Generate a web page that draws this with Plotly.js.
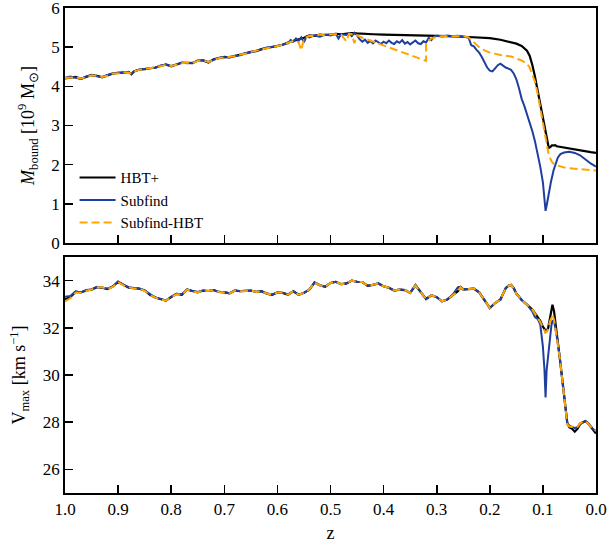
<!DOCTYPE html>
<html>
<head>
<meta charset="utf-8">
<script src="https://cdn.plot.ly/plotly-3.0.1.min.js"></script>
<style>html,body{margin:0;padding:0;background:#fff;}#chart{width:609px;height:552px;}</style>
</head>
<body>
<div id="chart"></div>
<script>
// ---- Top panel: M_bound [1e9 Msun] ----
var zHbtM = [1.00,0.98,0.97,0.96,0.95,0.94,0.93,0.92,0.91,0.90,0.89,0.88,0.875,0.87,0.86,0.85,0.84,0.83,0.82,0.81,0.80,0.79,0.78,0.77,0.76,0.75,0.74,0.73,0.72,0.71,0.70,0.69,0.68,0.67,0.66,0.65,0.64,0.63,0.62,0.61,0.60,0.59,0.58,0.57,0.56,0.55,0.54,0.53,0.52,0.51,0.50,0.49,0.48,0.47,0.46,0.45,0.44,0.42,0.40,0.36,0.32,0.28,0.24,0.22,0.20,0.18,0.16,0.15,0.14,0.135,0.13,0.125,0.12,0.115,0.11,0.105,0.10,0.095,0.092,0.089,0.086,0.083,0.08,0.077,0.074,0.07,0.065,0.06,0.05,0.04,0.03,0.02,0.01,0.0];
var mHbt = [4.20,4.24,4.19,4.24,4.29,4.27,4.23,4.28,4.33,4.34,4.36,4.36,4.31,4.38,4.43,4.44,4.46,4.48,4.52,4.56,4.51,4.55,4.60,4.60,4.59,4.66,4.66,4.61,4.69,4.72,4.75,4.74,4.77,4.80,4.84,4.88,4.90,4.95,4.98,5.00,5.03,5.06,5.12,5.17,5.20,5.24,5.30,5.29,5.32,5.31,5.33,5.34,5.33,5.35,5.36,5.35,5.34,5.33,5.32,5.31,5.29,5.28,5.26,5.25,5.23,5.19,5.13,5.09,5.03,4.98,4.91,4.78,4.55,4.25,3.90,3.50,3.12,2.75,2.55,2.43,2.45,2.49,2.49,2.50,2.47,2.46,2.44,2.43,2.41,2.38,2.36,2.34,2.32,2.30];

var zSubM = [1.00,0.99,0.98,0.97,0.96,0.95,0.94,0.93,0.92,0.91,0.90,0.89,0.88,0.875,0.87,0.86,0.85,0.84,0.83,0.82,0.81,0.80,0.79,0.78,0.77,0.76,0.75,0.74,0.73,0.72,0.71,0.70,0.69,0.68,0.67,0.66,0.65,0.64,0.63,0.62,0.61,0.60,0.59,0.58,0.575,0.57,0.565,0.56,0.555,0.55,0.545,0.54,0.53,0.52,0.51,0.50,0.49,0.485,0.48,0.47,0.465,0.46,0.455,0.45,0.445,0.44,0.435,0.43,0.425,0.42,0.415,0.41,0.405,0.40,0.395,0.39,0.385,0.38,0.375,0.37,0.365,0.36,0.355,0.35,0.345,0.34,0.335,0.33,0.325,0.32,0.315,0.31,0.305,0.30,0.29,0.28,0.27,0.26,0.25,0.24,0.235,0.23,0.225,0.22,0.215,0.21,0.205,0.20,0.195,0.19,0.185,0.18,0.175,0.17,0.165,0.16,0.155,0.15,0.145,0.14,0.135,0.13,0.125,0.12,0.115,0.11,0.105,0.10,0.097,0.095,0.093,0.09,0.085,0.08,0.077,0.072,0.067,0.06,0.05,0.04,0.03,0.02,0.01,0.0];
var mSub = [4.22,4.25,4.22,4.19,4.25,4.28,4.26,4.24,4.29,4.32,4.35,4.34,4.37,4.32,4.39,4.42,4.45,4.47,4.47,4.53,4.55,4.52,4.56,4.61,4.59,4.60,4.65,4.67,4.62,4.68,4.73,4.74,4.75,4.78,4.79,4.85,4.87,4.91,4.94,4.99,5.01,5.02,5.07,5.10,5.18,5.14,5.22,5.16,5.25,5.12,5.28,5.25,5.30,5.27,5.32,5.30,5.34,5.22,5.33,5.31,5.36,5.28,5.37,5.30,5.20,5.14,5.19,5.11,5.16,5.10,5.17,5.12,5.08,5.14,5.10,5.17,5.11,5.08,5.15,5.11,5.18,5.09,5.13,5.07,5.12,5.17,5.10,5.08,5.15,5.12,5.24,5.18,5.27,5.29,5.27,5.30,5.28,5.29,5.27,5.24,5.05,5.02,4.93,4.86,4.75,4.62,4.48,4.40,4.38,4.46,4.54,4.58,4.52,4.48,4.45,4.42,4.33,4.18,3.95,3.68,3.50,3.30,3.08,2.86,2.60,2.30,1.95,1.55,1.15,0.82,0.95,1.22,1.55,1.85,2.00,2.18,2.27,2.31,2.33,2.30,2.24,2.13,2.03,1.95];

var zShM = [1.00,0.98,0.97,0.96,0.95,0.94,0.93,0.92,0.91,0.90,0.89,0.88,0.875,0.87,0.86,0.85,0.84,0.83,0.82,0.81,0.80,0.79,0.78,0.77,0.76,0.75,0.74,0.73,0.72,0.71,0.70,0.69,0.68,0.67,0.66,0.65,0.64,0.63,0.62,0.61,0.60,0.59,0.58,0.57,0.56,0.555,0.55,0.54,0.53,0.52,0.51,0.50,0.49,0.48,0.47,0.465,0.46,0.455,0.45,0.44,0.32,0.32,0.31,0.30,0.29,0.25,0.24,0.23,0.22,0.21,0.20,0.18,0.16,0.14,0.13,0.125,0.12,0.115,0.11,0.105,0.10,0.095,0.09,0.087,0.083,0.078,0.07,0.06,0.05,0.04,0.03,0.02,0.01,0.0];
var mSh = [4.21,4.23,4.20,4.23,4.28,4.27,4.24,4.27,4.33,4.33,4.36,4.35,4.32,4.38,4.42,4.44,4.46,4.49,4.51,4.55,4.52,4.55,4.59,4.61,4.59,4.65,4.66,4.62,4.68,4.72,4.74,4.75,4.77,4.81,4.83,4.88,4.91,4.94,4.98,5.00,5.04,5.06,5.11,5.16,5.12,4.92,5.22,5.29,5.28,5.32,5.30,5.33,5.33,5.32,5.15,5.34,5.33,5.10,5.30,5.24,4.65,5.12,5.22,5.26,5.28,5.28,5.25,5.12,5.00,4.92,4.86,4.80,4.76,4.66,4.58,4.48,4.32,4.12,3.82,3.45,3.02,2.62,2.32,2.18,2.07,2.00,1.96,1.93,1.91,1.90,1.88,1.87,1.86,1.85];

// ---- Bottom panel: V_max [km/s] ----
var zV = [1.00,0.99,0.98,0.97,0.96,0.95,0.94,0.93,0.92,0.91,0.90,0.89,0.88,0.87,0.86,0.85,0.84,0.83,0.82,0.81,0.80,0.79,0.78,0.77,0.76,0.75,0.74,0.73,0.72,0.71,0.70,0.69,0.68,0.67,0.66,0.65,0.64,0.63,0.62,0.61,0.60,0.59,0.58,0.57,0.56,0.55,0.54,0.53,0.52,0.51,0.50,0.49,0.48,0.47,0.46,0.45,0.44,0.43,0.42,0.41,0.40,0.39,0.38,0.37,0.36,0.35,0.34,0.33,0.32,0.31,0.30,0.29,0.28,0.27,0.26,0.255,0.25,0.24,0.23,0.22,0.21,0.20,0.19,0.18,0.17,0.165,0.16,0.155,0.15,0.14,0.13,0.12,0.115,0.11,0.105,0.10,0.097,0.095,0.093,0.09,0.087,0.084,0.082,0.079,0.076,0.072,0.068,0.064,0.06,0.057,0.054,0.05,0.045,0.04,0.035,0.03,0.025,0.02,0.015,0.01,0.005,0.0];
var vHbt = [33.20,33.30,33.52,33.50,33.58,33.62,33.72,33.70,33.64,33.75,33.95,33.82,33.70,33.68,33.66,33.58,33.40,33.28,33.20,33.15,33.30,33.44,33.40,33.62,33.56,33.50,33.58,33.56,33.60,33.52,33.50,33.46,33.58,33.55,33.56,33.58,33.52,33.55,33.45,33.40,33.50,33.48,33.40,33.55,33.40,33.48,33.62,33.92,33.80,33.74,33.90,33.95,33.85,33.88,34.00,33.95,33.94,33.78,33.82,33.88,33.76,33.70,33.58,33.62,33.60,33.48,33.80,33.50,33.22,33.38,33.30,33.12,33.20,33.38,33.55,33.72,33.62,33.64,33.66,33.50,33.18,32.84,33.05,33.20,33.68,33.78,33.82,33.68,33.45,33.18,32.98,32.78,32.62,32.48,32.30,32.05,31.95,31.82,31.85,32.00,32.40,32.85,32.98,32.70,32.05,31.40,30.68,29.90,29.10,28.50,27.95,27.78,27.72,27.60,27.72,27.92,28.00,28.05,27.95,27.80,27.62,27.52];
var vSub = [33.32,33.35,33.55,33.50,33.60,33.62,33.74,33.70,33.66,33.75,33.96,33.82,33.72,33.68,33.66,33.58,33.42,33.28,33.22,33.15,33.32,33.44,33.42,33.62,33.56,33.52,33.58,33.56,33.60,33.52,33.52,33.46,33.58,33.55,33.58,33.58,33.52,33.55,33.46,33.40,33.50,33.48,33.42,33.55,33.40,33.48,33.62,33.92,33.80,33.74,33.90,33.95,33.85,33.88,34.00,33.95,33.94,33.78,33.82,33.88,33.76,33.70,33.58,33.62,33.60,33.48,33.82,33.50,33.22,33.38,33.30,33.12,33.20,33.40,33.72,33.74,33.64,33.64,33.66,33.50,33.18,32.84,33.05,33.20,33.68,33.78,33.82,33.68,33.45,33.18,32.98,32.70,32.45,32.38,32.15,31.20,30.20,29.05,30.20,30.90,31.60,32.10,32.30,32.30,31.90,31.40,30.68,29.90,29.10,28.50,27.95,27.85,27.80,27.75,27.80,27.95,28.00,28.05,27.98,27.85,27.70,27.62];
var vSh = [33.12,33.25,33.48,33.48,33.56,33.62,33.72,33.72,33.64,33.73,33.94,33.80,33.72,33.66,33.66,33.56,33.40,33.28,33.20,33.15,33.30,33.42,33.40,33.62,33.54,33.50,33.58,33.56,33.60,33.52,33.50,33.46,33.58,33.55,33.56,33.58,33.52,33.55,33.45,33.40,33.50,33.48,33.40,33.55,33.40,33.48,33.62,33.92,33.80,33.74,33.90,33.95,33.85,33.88,34.00,33.95,33.94,33.78,33.82,33.88,33.76,33.70,33.58,33.62,33.60,33.48,33.80,33.50,33.22,33.38,33.30,33.12,33.20,33.38,33.55,33.72,33.62,33.64,33.66,33.50,33.18,32.84,33.05,33.20,33.68,33.78,33.82,33.68,33.45,33.18,32.98,32.78,32.60,32.45,32.25,32.00,31.90,31.80,31.82,31.95,32.25,32.50,32.55,32.35,31.90,31.35,30.68,29.90,29.10,28.45,27.90,27.82,27.80,27.78,27.80,27.95,28.00,28.05,27.95,27.82,27.68,27.65];

var names = ["HBT+", "Subfind", "Subfind-HBT"];
var mTicks = [0, 1, 2, 3, 4, 5, 6];
var vTicks = [26, 28, 30, 32, 34];
var cBlack = "#000000", cBlue = "#1f3f9f", cOrange = "#ffa500";
var orangeDash = "8px,4px";

var traces = [
  {x: zHbtM, y: mHbt, name: names[0], mode: "lines", line: {color: cBlack, width: 2.2}, xaxis: "x", yaxis: "y", legendgroup: "a"},
  {x: zSubM, y: mSub, name: names[1], mode: "lines", line: {color: cBlue, width: 2}, xaxis: "x", yaxis: "y", legendgroup: "b"},
  {x: zShM, y: mSh, name: names[2], mode: "lines", line: {color: cOrange, width: 2, dash: orangeDash}, xaxis: "x", yaxis: "y", legendgroup: "c"},
  {x: zV, y: vHbt, name: names[0], mode: "lines", line: {color: cBlack, width: 2.2}, xaxis: "x2", yaxis: "y2", showlegend: false, legendgroup: "a"},
  {x: zV, y: vSub, name: names[1], mode: "lines", line: {color: cBlue, width: 2}, xaxis: "x2", yaxis: "y2", showlegend: false, legendgroup: "b"},
  {x: zV, y: vSh, name: names[2], mode: "lines", line: {color: cOrange, width: 2, dash: orangeDash}, xaxis: "x2", yaxis: "y2", showlegend: false, legendgroup: "c"}
];

var serif = "Liberation Serif, Times New Roman, serif";
var axCommon = {
  showline: true, mirror: true, linecolor: "#000", linewidth: 1.8,
  ticks: "inside", ticklen: 8, tickwidth: 1.6, tickcolor: "#000",
  showgrid: false, zeroline: false, ticklabeloverflow: "allow",
  tickfont: {family: serif, size: 17, color: "#000"}
};

var layout = {
  width: 609, height: 552,
  margin: {l: 65, r: 13, t: 8, b: 59},
  paper_bgcolor: "#fff", plot_bgcolor: "#fff",
  font: {family: serif, color: "#000"},
  showlegend: true,
  legend: {x: 0.018, xanchor: "left", y: 0.684, yanchor: "top", bgcolor: "rgba(0,0,0,0)",
           font: {family: serif, size: 15, color: "#000"}, tracegroupgap: 0, itemwidth: 36},
  xaxis: Object.assign({}, axCommon, {domain: [0, 1], range: [1, 0], dtick: 0.1, tick0: 0, showticklabels: false, anchor: "y", matches: "x2"}),
  xaxis2: Object.assign({}, axCommon, {domain: [0, 1], range: [1, 0], dtick: 0.1, tick0: 0, tickformat: ".1f", anchor: "y2",
    title: {text: "z", font: {family: serif, size: 18, color: "#000"}, standoff: 8}}),
  yaxis: Object.assign({}, axCommon, {domain: [0.5155, 1], range: [0, 6], tickmode: "array", tickvals: mTicks, ticktext: mTicks.map(String), anchor: "x",
    title: {text: "<i>M</i><sub>bound</sub> [10<sup>9</sup> M<sub>⊙</sub>]", font: {family: serif, size: 18, color: "#000"}, standoff: 12}}),
  yaxis2: Object.assign({}, axCommon, {domain: [0, 0.4866], range: [25, 35], tickmode: "array", tickvals: vTicks, anchor: "x2",
    title: {text: "V<sub>max</sub> [km s<sup>−1</sup>]", font: {family: serif, size: 18, color: "#000"}, standoff: 12}})
};

Plotly.newPlot("chart", traces, layout, {staticPlot: true, displayModeBar: false});
</script>
</body>
</html>
